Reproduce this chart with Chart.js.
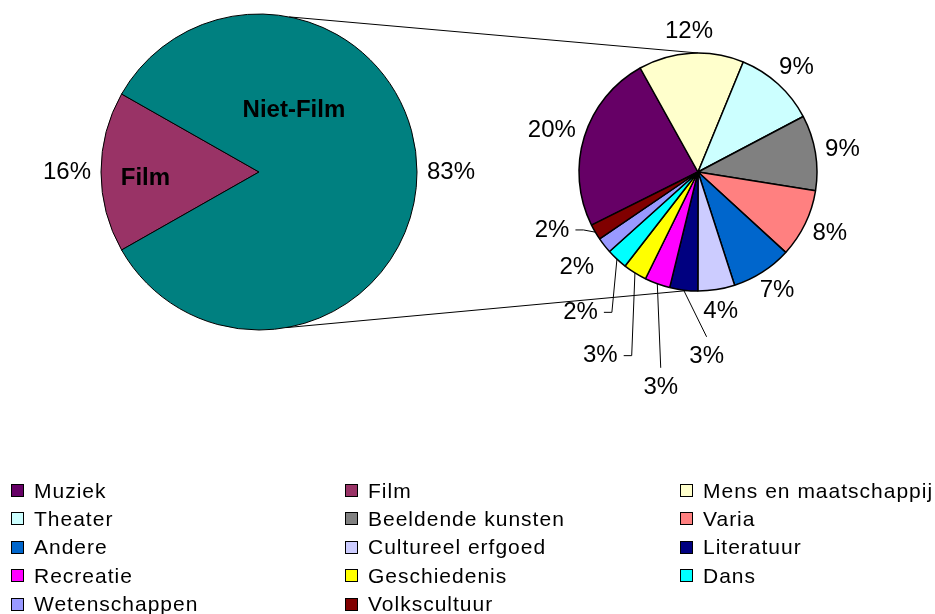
<!DOCTYPE html>
<html lang="nl">
<head>
<meta charset="UTF-8">
<title>Film en Niet-Film</title>
<script src="https://cdn.jsdelivr.net/npm/chart.js"></script>
<style>
  html, body { margin: 0; padding: 0; background: #fff; }
  #wrap { position: relative; width: 935px; height: 614px; overflow: hidden; font-family: "Liberation Sans", Arial, sans-serif; }
  #wrap canvas { position: absolute; left: 0; top: 0; }
  .lg { position: absolute; height: 24px; display: flex; align-items: center; font-size: 21px; letter-spacing: 1px; white-space: nowrap; color: #000; }
  .lg i { display: inline-block; width: 11px; height: 11px; border: 1px solid #000; margin-right: 10px; }
</style>
</head>
<body>
<div id="wrap">
  <canvas id="mainPie" width="935" height="614"></canvas>
  <canvas id="subPie" width="935" height="614"></canvas>
  <div id="legend"></div>
</div>
<script>
// grote cirkel
const mainLabels = ['Film', 'Niet-Film'];
const mainValues = [16.4, 83.4];
const mainColors = ['#993366', '#008080'];

// uitsplitsing van Niet-Film
const subLabels = ['Muziek', 'Mens en maatschappij', 'Theater', 'Beeldende kunsten', 'Varia', 'Andere',
  'Cultureel erfgoed', 'Literatuur', 'Recreatie', 'Geschiedenis', 'Dans', 'Wetenschappen', 'Volkscultuur'];
const subValues = [20.4, 12.0, 9.3, 8.6, 7.8, 6.9, 4.2, 3.2, 2.9, 2.7, 2.4, 1.8, 1.8];
const subColors = ['#660066', '#FFFFCC', '#CCFFFF', '#808080', '#FF8080', '#0066CC',
  '#CCCCFF', '#000080', '#FF00FF', '#FFFF00', '#00FFFF', '#9999FF', '#800000'];

const legendOrder = ['Muziek', 'Film', 'Mens en maatschappij', 'Theater', 'Beeldende kunsten', 'Varia',
  'Andere', 'Cultureel erfgoed', 'Literatuur', 'Recreatie', 'Geschiedenis', 'Dans', 'Wetenschappen', 'Volkscultuur'];

const FONT = '"Liberation Sans", Arial, sans-serif';

// percentages naast de taartpunten (met verbindingslijntjes voor de kleine)
const pctLabels = {
  id: 'pctLabels',
  afterDatasetsDraw(chart, args, opts) {
    const ctx = chart.ctx;
    const meta = chart.getDatasetMeta(0);
    const values = chart.data.datasets[0].data;
    ctx.save();
    ctx.fillStyle = '#000';
    ctx.strokeStyle = '#000';
    ctx.lineWidth = 1;
    ctx.textAlign = 'center';
    ctx.textBaseline = 'middle';
    meta.data.forEach((arc, i) => {
      const r = arc.outerRadius;
      const mid = (arc.startAngle + arc.endAngle) / 2;
      const c = Math.cos(mid), s = Math.sin(mid);
      const txt = Math.round(values[i]) + '%';
      ctx.font = '24px ' + FONT;
      const w = ctx.measureText(txt).width;
      const mv = (opts.moved || {})[i];
      let x, y;
      if (mv) {
        const a = mid + mv.da * Math.PI / 180;
        x = arc.x + (r + mv.dr) * Math.cos(a);
        y = arc.y + (r + mv.dr) * Math.sin(a);
        if (mv.line) {
          ctx.beginPath();
          ctx.moveTo(arc.x + r * c, arc.y + r * s);
          if (mv.line === 'side') {
            ctx.lineTo(x + w / 2 + 14, y);
            ctx.lineTo(x + w / 2 + 6, y);
          } else {
            ctx.lineTo(x, y - 20);
          }
          ctx.stroke();
        }
      } else {
        x = arc.x + (r + opts.gap) * c + c * w / 2;
        y = arc.y + (r + opts.gap) * s + s * 12;
      }
      ctx.fillText(txt, x, y);

      const nm = (opts.names || {})[i];
      if (nm) {
        const a = mid + nm.da * Math.PI / 180;
        ctx.font = 'bold 24px ' + FONT;
        ctx.fillText(chart.data.labels[i], arc.x + r * nm.f * Math.cos(a), arc.y + r * nm.f * Math.sin(a));
      }
    });
    ctx.restore();
  }
};

const mainTotal = mainValues.reduce((a, b) => a + b, 0);
const filmDeg = mainValues[0] / mainTotal * 360;

const mainChart = new Chart(document.getElementById('mainPie'), {
  type: 'pie',
  data: {
    labels: mainLabels,
    datasets: [{ data: mainValues, backgroundColor: mainColors, borderColor: '#000', borderWidth: 1 }]
  },
  options: {
    responsive: false,
    animation: false,
    devicePixelRatio: 1,
    rotation: 270 - filmDeg / 2,
    layout: { padding: { left: 100.5, top: 13.5, right: 517.5, bottom: 283.5 } },
    plugins: {
      legend: { display: false },
      tooltip: { enabled: false },
      pctLabels: {
        gap: 10,
        names: { 0: { f: 0.72, da: -3 }, 1: { f: 0.45, da: -60.6 } }
      }
    }
  },
  plugins: [pctLabels]
});

// lijnen van de grote naar de kleine cirkel
const connectors = {
  id: 'connectors',
  beforeDatasetsDraw(chart) {
    const big = mainChart.getDatasetMeta(0).data[0];
    const small = chart.getDatasetMeta(0).data[0];
    const pt = (arc, deg) => {
      const a = (deg - 90) * Math.PI / 180;
      return [arc.x + arc.outerRadius * Math.cos(a), arc.y + arc.outerRadius * Math.sin(a)];
    };
    const ctx = chart.ctx;
    ctx.save();
    ctx.strokeStyle = '#000';
    ctx.lineWidth = 1;
    [[11, 0], [170, 185]].forEach(([a1, a2]) => {
      const p = pt(big, a1), q = pt(small, a2);
      ctx.beginPath();
      ctx.moveTo(p[0], p[1]);
      ctx.lineTo(q[0], q[1]);
      ctx.stroke();
    });
    ctx.restore();
  }
};

const subChart = new Chart(document.getElementById('subPie'), {
  type: 'pie',
  data: {
    labels: subLabels,
    datasets: [{ data: subValues, backgroundColor: subColors, borderColor: '#000', borderWidth: 1.5 }]
  },
  options: {
    responsive: false,
    animation: false,
    devicePixelRatio: 1,
    rotation: 243.5,
    layout: { padding: { left: 578.25, top: 52.25, right: 117.25, bottom: 322.25 } },
    plugins: {
      legend: { display: false },
      tooltip: { enabled: false },
      pctLabels: {
        gap: 10,
        moved: {
          7: { dr: 66, da: -9.6, line: 'top' },
          8: { dr: 100, da: -10.2, line: 'top' },
          9: { dr: 89, da: -4, line: 'side' },
          10: { dr: 64, da: -3, line: 'side' },
          11: { dr: 35, da: 0 },
          12: { dr: 38, da: 8.7, line: 'side' }
        }
      }
    }
  },
  plugins: [connectors, pctLabels]
});

// legenda
const colorOf = {};
mainLabels.forEach((l, i) => { colorOf[l] = mainColors[i]; });
subLabels.forEach((l, i) => { colorOf[l] = subColors[i]; });
const legendBox = document.getElementById('legend');
const colX = [11, 345, 680];
legendOrder.forEach((name, i) => {
  const d = document.createElement('div');
  d.className = 'lg';
  d.style.left = colX[i % 3] + 'px';
  d.style.top = (478.5 + Math.floor(i / 3) * 28.4) + 'px';
  d.innerHTML = '<i style="background:' + colorOf[name] + '"></i>' + name;
  legendBox.appendChild(d);
});
</script>
</body>
</html>
